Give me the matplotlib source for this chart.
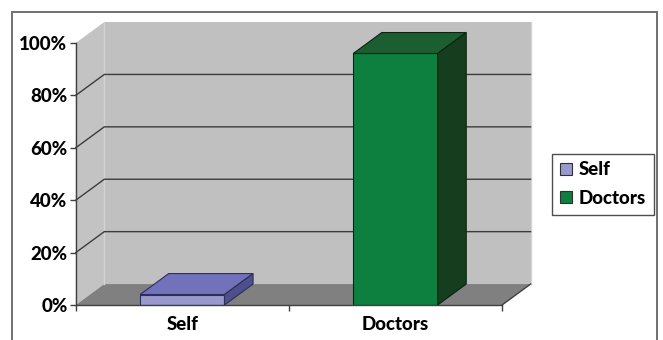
import matplotlib
matplotlib.use("Agg")
import matplotlib.pyplot as plt
from matplotlib.patches import Polygon, Patch, Rectangle

# ---- data -------------------------------------------------------------
categories = ["Self", "Doctors"]
values = [4, 96]
y_ticks = [0, 20, 40, 60, 80, 100]
y_tick_labels = ["0%", "20%", "40%", "60%", "80%", "100%"]

# ---- style ------------------------------------------------------------
front_colors = ["#9A99CD", "#0D7F3F"]
top_colors = ["#7272BA", "#1A5E31"]
side_colors = ["#4F4F8B", "#153D1E"]
edge_colors = ["#2E2E5C", "#0A2510"]
wall_color = "#C0C0C0"
side_wall_color = "#C3C3C3"
floor_color = "#808080"
grid_color = "#3C3C3C"
axis_color = "#404040"

FONT = dict(family="Lato", weight=900, size=13.5, color="black")

W, H = 663, 340
fig = plt.figure(figsize=(W / 100, H / 100), dpi=100)
ax = fig.add_axes([0.1142, 0.1029, 0.643, 0.7706])
ax.set_xlim(-0.5, len(categories) - 0.5)
ax.set_ylim(0, 100)
ax.patch.set_visible(False)

# depth of the 3-D box (x in category units, y in percent)
dx, dy = 0.134, 8.0
x0, x1 = -0.5, len(categories) - 0.5

# walls and floor
ax.add_patch(Polygon([(x0, 0), (x0 + dx, dy), (x0 + dx, 100 + dy), (x0, 100)],
                     closed=True, facecolor=side_wall_color, edgecolor="none",
                     clip_on=False, zorder=0))
ax.add_patch(Polygon([(x0 + dx, dy), (x1 + dx, dy), (x1 + dx, 100 + dy), (x0 + dx, 100 + dy)],
                     closed=True, facecolor=wall_color, edgecolor="none",
                     clip_on=False, zorder=0))
ax.add_patch(Polygon([(x0, 0), (x1, 0), (x1 + dx, dy), (x0 + dx, dy)],
                     closed=True, facecolor=floor_color, edgecolor="none",
                     clip_on=False, zorder=0.5))
# wall corner edges
ax.plot([x0 + dx, x0 + dx], [dy, 100 + dy], color="#D4D4D4", lw=1.0,
        clip_on=False, zorder=0.6)
ax.plot([x1 + dx, x1 + dx], [dy, 100 + dy], color="#D4D4D4", lw=1.0,
        clip_on=False, zorder=0.6)
ax.plot([x1, x1 + dx], [0, dy], color=axis_color, lw=1.0,
        clip_on=False, zorder=0.7)

# gridlines on side wall and back wall
for v in y_ticks[1:-1]:
    ax.plot([x0, x0 + dx, x1 + dx], [v, v + dy, v + dy], color=grid_color,
            lw=1.0, clip_on=False, zorder=1)

# bars: front faces
bar_w = 0.396
xs = list(range(len(categories)))
ax.bar(xs, values, width=bar_w, color=front_colors, edgecolor=edge_colors,
       linewidth=0.8, zorder=3)

# bars: top and side faces
for i, v in enumerate(values):
    xl, xr = xs[i] - bar_w / 2, xs[i] + bar_w / 2
    ax.add_patch(Polygon([(xl, v), (xr, v), (xr + dx, v + dy), (xl + dx, v + dy)],
                         closed=True, facecolor=top_colors[i],
                         edgecolor=edge_colors[i], lw=0.8, clip_on=False, zorder=3))
    ax.add_patch(Polygon([(xr, 0), (xr + dx, dy), (xr + dx, v + dy), (xr, v)],
                         closed=True, facecolor=side_colors[i],
                         edgecolor=edge_colors[i], lw=0.8, clip_on=False, zorder=3))

# axes
for s in ("top", "right"):
    ax.spines[s].set_visible(False)
for s in ("left", "bottom"):
    ax.spines[s].set_color(axis_color)
    ax.spines[s].set_linewidth(1.0)
    ax.spines[s].set_zorder(4)

ax.set_yticks(y_ticks)
ax.set_yticklabels(y_tick_labels, fontdict=FONT)
ax.tick_params(axis="y", direction="out", length=4, width=1.0,
               color=axis_color, pad=2)

ax.set_xticks([x0 + k for k in range(len(categories) + 1)])
ax.set_xticklabels([])
ax.set_xticks(xs, minor=True)
ax.set_xticklabels(categories, minor=True, fontdict=FONT)
ax.tick_params(axis="x", which="major", direction="out", length=4, width=1.0,
               color=axis_color)
ax.tick_params(axis="x", which="minor", length=0, pad=8)

# legend
handles = [Patch(facecolor=front_colors[i], edgecolor="#303030", linewidth=0.8,
                 label=categories[i]) for i in range(len(categories))]
leg = fig.legend(handles=handles, loc="center left",
                 bbox_to_anchor=(552 / W, 1 - 184 / H),
                 frameon=True, fancybox=False, borderaxespad=0,
                 prop=dict(family="Lato", weight=900, size=13.5),
                 handlelength=0.66, handleheight=0.62, handletextpad=0.36,
                 labelspacing=0.6, borderpad=0.42)
leg.get_frame().set_edgecolor("#202020")
leg.get_frame().set_linewidth(1.0)

# outer chart border
fig.add_artist(Rectangle((12 / W, -0.1), (657 - 12) / W, 1.1 - 12 / H,
                         transform=fig.transFigure, facecolor="none",
                         edgecolor="#707070", linewidth=1.4, clip_on=False))

fig.savefig("out.png", dpi=100)
